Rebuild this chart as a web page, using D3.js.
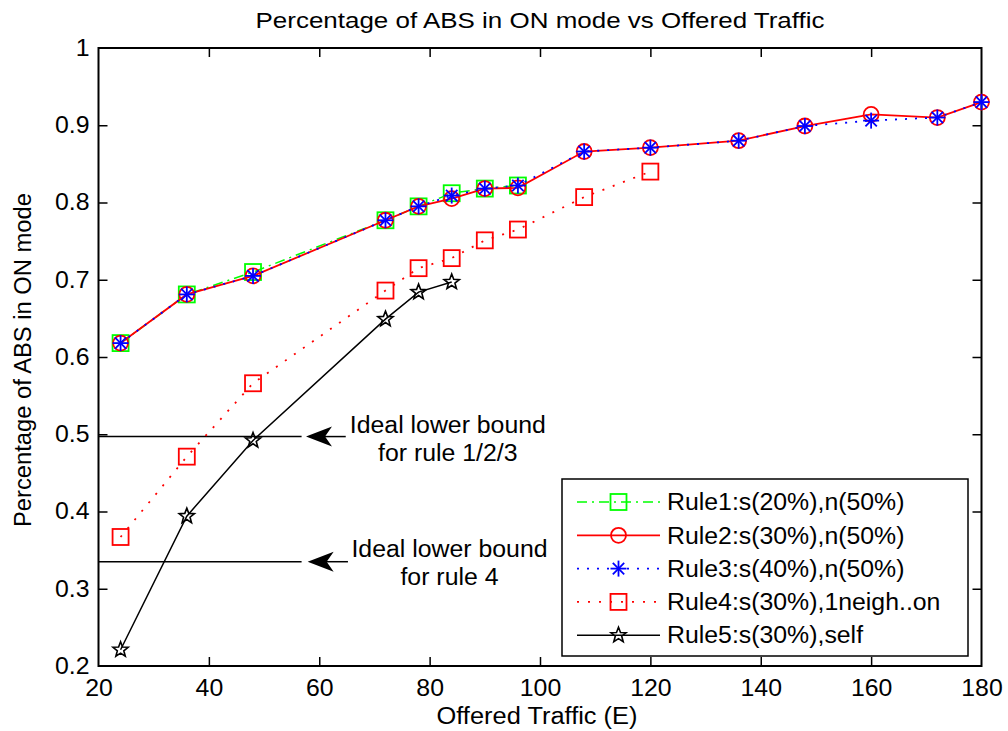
<!DOCTYPE html>
<html>
<head>
<meta charset="utf-8">
<script src="https://cdn.jsdelivr.net/npm/d3@7"></script>
<style>
  html, body { margin: 0; padding: 0; background: #fff; }
  svg { display: block; }
  text { font-family: "Liberation Sans", Arial, Helvetica, sans-serif; fill: #000; }
</style>
</head>
<body>
<svg id="chart" width="1008" height="731"></svg>
<script>
// Offered traffic (Erlang) at which each rule was simulated
const trafficAll = [24, 36, 48, 72, 78, 84, 90, 96, 108, 120, 136, 148, 160, 172, 180];
const trafficRule1 = [24, 36, 48, 72, 78, 84, 90, 96];
const trafficRule4 = [24, 36, 48, 72, 78, 84, 90, 96, 108, 120];
const trafficRule5 = [24, 36, 48, 72, 78, 84];

// Fraction of ABS in ON mode
const rule1 = [0.618, 0.681, 0.710, 0.777, 0.795, 0.812, 0.818, 0.822];
const rule2 = [0.618, 0.681, 0.705, 0.777, 0.795, 0.805, 0.818, 0.819, 0.866, 0.871, 0.880, 0.899, 0.914, 0.910, 0.930];
const rule3 = [0.618, 0.681, 0.705, 0.777, 0.795, 0.809, 0.818, 0.822, 0.866, 0.871, 0.880, 0.899, 0.906, 0.910, 0.930];
const rule4 = [0.367, 0.471, 0.566, 0.686, 0.715, 0.728, 0.751, 0.765, 0.807, 0.840];
const rule5 = [0.221, 0.394, 0.492, 0.649, 0.684, 0.697];

const seriesNames = [
  "Rule1:s(20%),n(50%)",
  "Rule2:s(30%),n(50%)",
  "Rule3:s(40%),n(50%)",
  "Rule4:s(30%),1neigh..on",
  "Rule5:s(30%),self"
];

const xTicks = [20, 40, 60, 80, 100, 120, 140, 160, 180];
const yTicks = [0.2, 0.3, 0.4, 0.5, 0.6, 0.7, 0.8, 0.9, 1];

// Ideal lower bounds
const boundRule123 = 0.497;
const boundRule4 = 0.335;

const titleText = "Percentage of ABS in ON mode vs Offered Traffic";
const xLabelText = "Offered Traffic (E)";
const yLabelText = "Percentage of ABS in ON mode";

// ---------------------------------------------------------------
const svg = d3.select("#chart");
const FS = 23;          // base font size
const STRETCH = 1.08;   // horizontal widening of glyphs

const pLeft = 98.5, pRight = 981.5, pTop = 48, pBottom = 666;
const x = d3.scaleLinear().domain([20, 180]).range([pLeft, pRight]);
const y = d3.scaleLinear().domain([0.2, 1]).range([pBottom, pTop]);

function widen(sel, k, fixed) {
  sel.each(function () {
    const w = fixed || this.getComputedTextLength() * k;
    d3.select(this).attr("textLength", w).attr("lengthAdjust", "spacingAndGlyphs");
  });
}

// Axes with inward ticks on all four sides
const tickLen = 9;
const gx = svg.append("g").attr("transform", `translate(0,${pBottom})`)
  .call(d3.axisBottom(x).tickValues(xTicks).tickSizeInner(-tickLen).tickSizeOuter(0)
    .tickPadding(14).tickFormat(d3.format("d")));
const gxTop = svg.append("g").attr("transform", `translate(0,${pTop})`)
  .call(d3.axisTop(x).tickValues(xTicks).tickSizeInner(-tickLen).tickSizeOuter(0).tickFormat(""));
const gy = svg.append("g").attr("transform", `translate(${pLeft},0)`)
  .call(d3.axisLeft(y).tickValues(yTicks).tickSizeInner(-tickLen).tickSizeOuter(0)
    .tickPadding(9).tickFormat(d => d === 1 ? "1" : d3.format(".1f")(d)));
const gyRight = svg.append("g").attr("transform", `translate(${pRight},0)`)
  .call(d3.axisRight(y).tickValues(yTicks).tickSizeInner(-tickLen).tickSizeOuter(0).tickFormat(""));

[gx, gxTop, gy, gyRight].forEach(g => {
  g.select(".domain").remove();
  g.selectAll(".tick line").attr("stroke", "#000").attr("stroke-width", 1.5);
  g.selectAll("text").attr("font-size", FS).attr("font-family", null).attr("fill", "#000");
});
widen(gx.selectAll("text"), STRETCH);
widen(gy.selectAll("text"), STRETCH);

// Drop the end ticks that coincide with the frame
[gx, gxTop].forEach(g => g.selectAll(".tick").filter(d => d === 20 || d === 180).select("line").remove());
[gy, gyRight].forEach(g => g.selectAll(".tick").filter(d => d === 0.2 || d === 1).select("line").remove());

// Plot frame
svg.append("rect")
  .attr("x", pLeft).attr("y", pTop)
  .attr("width", pRight - pLeft).attr("height", pBottom - pTop)
  .attr("fill", "none").attr("stroke", "#000").attr("stroke-width", 2);

// Titles
const title = svg.append("text").attr("x", (pLeft + pRight) / 2).attr("y", 28)
  .attr("text-anchor", "middle").attr("font-size", FS - 1).text(titleText);
widen(title, 1, 569);

const xl = svg.append("text").attr("x", (pLeft + pRight) / 2 - 3).attr("y", 724)
  .attr("text-anchor", "middle").attr("font-size", FS).text(xLabelText);
widen(xl, 1, 201);

const yl = svg.append("text")
  .attr("transform", `translate(31,${(pTop + pBottom) / 2 + 3}) rotate(-90)`)
  .attr("text-anchor", "middle").attr("font-size", FS).text(yLabelText);
widen(yl, 1, 334);

// ---------------------------------------------------------------
// Markers
function drawMarker(g, kind, cx, cy, color) {
  const m = g.append("g").attr("transform", `translate(${cx},${cy})`);
  if (kind === "square") {
    m.append("rect").attr("x", -8).attr("y", -8).attr("width", 16).attr("height", 16)
      .attr("fill", "none").attr("stroke", color).attr("stroke-width", 1.8);
  } else if (kind === "circle") {
    m.append("circle").attr("r", 7.5).attr("fill", "none")
      .attr("stroke", color).attr("stroke-width", 1.8);
  } else if (kind === "asterisk") {
    const r = 8, d = 5.7;
    const segs = [[-r, 0, r, 0], [0, -r, 0, r], [-d, -d, d, d], [-d, d, d, -d]];
    segs.forEach(s => m.append("line")
      .attr("x1", s[0]).attr("y1", s[1]).attr("x2", s[2]).attr("y2", s[3])
      .attr("stroke", color).attr("stroke-width", 1.8));
  } else if (kind === "star") {
    const pts = [];
    for (let i = 0; i < 10; i++) {
      const r = i % 2 === 0 ? 8 : 3.4;
      const a = -Math.PI / 2 + i * Math.PI / 5;
      pts.push([r * Math.cos(a), r * Math.sin(a)]);
    }
    m.append("polygon").attr("points", pts.map(p => p.join(",")).join(" "))
      .attr("fill", "none").attr("stroke", color).attr("stroke-width", 1.6);
  }
}

const series = [
  { xs: trafficRule1, ys: rule1, color: "#00ff00", dash: "10,5,2,5", width: 1.5, marker: "square" },
  { xs: trafficAll,   ys: rule2, color: "#ff0000", dash: null,        width: 1.8, marker: "circle" },
  { xs: trafficAll,   ys: rule3, color: "#0000ff", dash: "2,8",       width: 1.8, marker: "asterisk" },
  { xs: trafficRule4, ys: rule4, color: "#ff0000", dash: "2,9",       width: 1.8, marker: "square" },
  { xs: trafficRule5, ys: rule5, color: "#000000", dash: null,        width: 1.5, marker: "star" }
];

const lineGen = d3.line().x(d => x(d[0])).y(d => y(d[1]));
const plot = svg.append("g");

// Ideal lower-bound reference lines
[boundRule123, boundRule4].forEach(b => {
  plot.append("line")
    .attr("x1", x(20)).attr("x2", x(56.8))
    .attr("y1", y(b)).attr("y2", y(b))
    .attr("stroke", "#000").attr("stroke-width", 1.5);
});

series.forEach(s => {
  const pts = s.xs.map((v, i) => [v, s.ys[i]]);
  const g = plot.append("g");
  g.append("path").attr("d", lineGen(pts))
    .attr("fill", "none").attr("stroke", s.color).attr("stroke-width", s.width)
    .attr("stroke-dasharray", s.dash);
  pts.forEach(p => drawMarker(g, s.marker, x(p[0]), y(p[1]), s.color));
});

// Annotation arrows pointing at the bound lines
function arrow(tipX, tailX, yv) {
  const tx = x(tipX), ex = x(tailX), yy = y(yv);
  plot.append("line").attr("x1", ex).attr("x2", tx + 10).attr("y1", yy).attr("y2", yy)
    .attr("stroke", "#000").attr("stroke-width", 1.5);
  plot.append("polygon")
    .attr("points", [[tx, yy], [tx + 26, yy - 10], [tx + 19, yy], [tx + 26, yy + 10]].map(p => p.join(",")).join(" "))
    .attr("fill", "#000");
}
arrow(57.6, 64.8, boundRule123);
arrow(57.9, 65.2, boundRule4);

function note(lines, xv, yv1, yv2) {
  [[lines[0], yv1], [lines[1], yv2]].forEach(([t, yv]) => {
    const el = plot.append("text").attr("x", x(xv)).attr("y", y(yv)).attr("dy", "0.36em")
      .attr("text-anchor", "middle").attr("font-size", FS).text(t);
    widen(el, STRETCH);
  });
}
note(["Ideal lower bound", "for rule 1/2/3"], 83.3, 0.512, 0.476);
note(["Ideal lower bound", "for rule 4"], 83.6, 0.352, 0.315);

// ---------------------------------------------------------------
// Legend
const lg = svg.append("g");
lg.append("rect").attr("x", 562).attr("y", 479).attr("width", 406).attr("height", 177)
  .attr("fill", "#fff").attr("stroke", "#000").attr("stroke-width", 1.5);
series.forEach((s, i) => {
  const cy = 502 + i * 33.3;
  lg.append("line").attr("x1", 577).attr("x2", 660).attr("y1", cy).attr("y2", cy)
    .attr("stroke", s.color).attr("stroke-width", s.width).attr("stroke-dasharray", s.dash);
  drawMarker(lg, s.marker, 618.5, cy, s.color);
  const t = lg.append("text").attr("x", 667).attr("y", cy).attr("dy", "0.36em")
    .attr("font-size", FS).text(seriesNames[i]);
  widen(t, STRETCH);
});
</script>
</body>
</html>
